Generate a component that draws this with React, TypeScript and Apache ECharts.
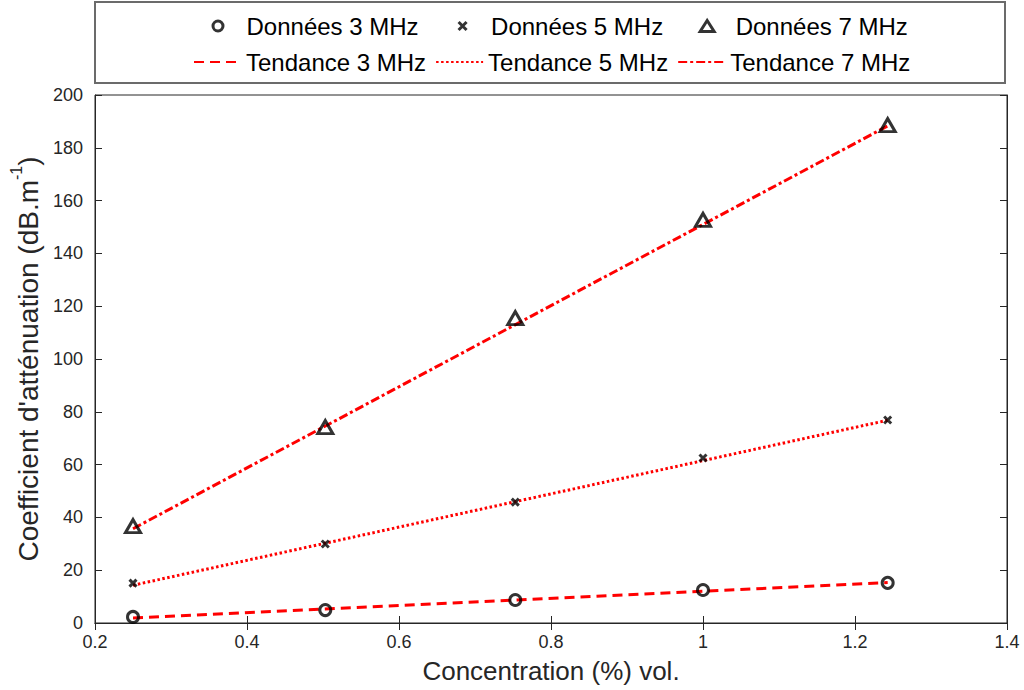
import React, { useEffect, useRef } from "react";
import * as echarts from "echarts";

const concentration = [0.25, 0.503, 0.753, 1.0, 1.243];
const data3 = [2.3, 4.9, 8.7, 12.5, 15.2];
const data5 = [15.1, 29.9, 45.8, 62.5, 76.9];
const data7 = [36.7, 74.2, 115.5, 152.7, 188.6];
const trendX = [0.25, 1.243];
const trend3 = [1.9, 15.3];
const trend5 = [14.3, 76.8];
const trend7 = [35.7, 188.3];
const dataNames = ["Données 3 MHz", "Données 5 MHz", "Données 7 MHz"];
const trendNames = ["Tendance 3 MHz", "Tendance 5 MHz", "Tendance 7 MHz"];

const FONT = "'Liberation Sans', Arial, Helvetica, sans-serif";
const AXIS_COLOR = "#262626";
const CROSS = "path://M0,0L10,10M10,0L0,10";
// legend icons: a 47x14 box (two move-to corners) with the marker centred in it
const LEG_CIRCLE = "path://M0,0M47,14M28.5,7A5,5,0,1,1,18.5,7A5,5,0,1,1,28.5,7Z";
const LEG_CROSS = "path://M0,0M47,14M19.5,3L27.5,11M27.5,3L19.5,11";
const LEG_TRIANGLE = "path://M0,0M47,14M16.5,12.5L30.5,12.5L23.5,1.5Z";
const legendIcons = [LEG_CIRCLE, LEG_CROSS, LEG_TRIANGLE];

const pairs = (xs: number[], ys: number[]) => xs.map((x, i) => [x, ys[i]]);

export default function App() {
  const ref = useRef<HTMLDivElement>(null);
  useEffect(() => {
    if (!ref.current) return;
    const chart = echarts.init(ref.current, null, { renderer: "svg" });
    const axisCommon = {
      axisLine: { show: true, lineStyle: { color: AXIS_COLOR, width: 1 } },
      axisTick: { show: true, inside: true, length: 7, lineStyle: { color: AXIS_COLOR } },
      splitLine: { show: false },
    };
    const openStyle = { color: "rgba(255,255,255,0)", borderColor: "#000000", borderWidth: 3 };
    const crossStyle = { color: "#000000", borderColor: "#000000", borderWidth: 3 };
    const legendText = { fontSize: 24, color: "#000", fontFamily: FONT };
    const option: any = {
      animation: false,
      backgroundColor: "#ffffff",
      textStyle: { fontFamily: FONT },
      graphic: [
        {
          type: "rect",
          shape: { x: 95, y: 2, width: 910, height: 81 },
          style: { fill: "#ffffff", stroke: "#6b6b6b", lineWidth: 2 },
          z: -1,
        },
      ],
      legend: [
        {
          data: dataNames.map((n, i) => ({
            name: n,
            icon: legendIcons[i],
            itemStyle: i === 1
              ? { color: "rgba(0,0,0,0)", borderColor: "#000", borderWidth: 3 }
              : openStyle,
          })),
          left: 188,
          top: 9,
          itemWidth: 47,
          itemHeight: 14,
          itemGap: 19,
          textStyle: legendText,
        },
        {
          data: trendNames.map((n) => ({ name: n, itemStyle: { opacity: 0 } })),
          left: 188,
          top: 45,
          itemWidth: 47,
          itemHeight: 14,
          itemGap: 9,
          textStyle: legendText,
        },
      ],
      grid: { left: 95, top: 95, right: 17, bottom: 67, show: true, borderColor: AXIS_COLOR, borderWidth: 1 },
      xAxis: [
        {
          type: "value",
          min: 0.2,
          max: 1.4,
          interval: 0.2,
          position: "bottom",
          ...axisCommon,
          axisLabel: {
            fontSize: 18,
            color: AXIS_COLOR,
            margin: 10,
            fontFamily: FONT,
            formatter: (v: number) => String(+v.toFixed(1)),
          },
          name: "Concentration (%) vol.",
          nameLocation: "middle",
          nameGap: 35,
          nameTextStyle: { fontSize: 26, color: AXIS_COLOR, fontFamily: FONT },
        },
        {
          type: "value",
          min: 0.2,
          max: 1.4,
          interval: 0.2,
          position: "top",
          ...axisCommon,
          axisLabel: { show: false },
        },
      ],
      yAxis: [
        {
          type: "value",
          min: 0,
          max: 200,
          interval: 20,
          position: "left",
          ...axisCommon,
          axisLabel: { fontSize: 18, color: AXIS_COLOR, margin: 12, fontFamily: FONT },
          name: "{a|Coefficient d'atténuation (dB.m}{s|-1}{a|)}",
          nameLocation: "middle",
          nameRotate: 90,
          nameGap: 51,
          nameTextStyle: {
            fontSize: 28,
            color: AXIS_COLOR,
            fontFamily: FONT,
            rich: {
              a: { fontSize: 28, color: AXIS_COLOR, fontFamily: FONT, lineHeight: 34, verticalAlign: "bottom" },
              s: { fontSize: 16, color: AXIS_COLOR, fontFamily: FONT, lineHeight: 34, verticalAlign: "top" },
            },
          },
        },
        {
          type: "value",
          min: 0,
          max: 200,
          interval: 20,
          position: "right",
          ...axisCommon,
          axisLabel: { show: false },
        },
      ],
      series: [
        {
          name: trendNames[0],
          type: "line",
          data: pairs(trendX, trend3),
          symbol: "none",
          lineStyle: { color: "#ff0000", width: 3, type: [10, 6] },
          itemStyle: { color: "#ff0000" },
          z: 2,
        },
        {
          name: trendNames[1],
          type: "line",
          data: pairs(trendX, trend5),
          symbol: "none",
          lineStyle: { color: "#ff0000", width: 3, type: [2.5, 2.5] },
          itemStyle: { color: "#ff0000" },
          z: 2,
        },
        {
          name: trendNames[2],
          type: "line",
          data: pairs(trendX, trend7),
          symbol: "none",
          lineStyle: { color: "#ff0000", width: 3, type: [9, 3, 3, 3] },
          itemStyle: { color: "#ff0000" },
          z: 2,
        },
        {
          name: dataNames[0],
          type: "scatter",
          data: pairs(concentration, data3),
          symbol: "circle",
          symbolSize: 11,
          itemStyle: openStyle,
          z: 3,
        },
        {
          name: dataNames[1],
          type: "scatter",
          data: pairs(concentration, data5),
          symbol: CROSS,
          symbolSize: 7,
          itemStyle: crossStyle,
          z: 3,
        },
        {
          name: dataNames[2],
          type: "scatter",
          data: pairs(concentration, data7),
          symbol: "triangle",
          symbolSize: [15, 13],
          itemStyle: openStyle,
          z: 3,
        },
      ],
    };
    chart.setOption(option);
    return () => chart.dispose();
  }, []);
  return (
    <div
      ref={ref}
      style={{ position: "fixed", left: 0, top: 0, width: 1024, height: 690, background: "#fff" }}
    />
  );
}
